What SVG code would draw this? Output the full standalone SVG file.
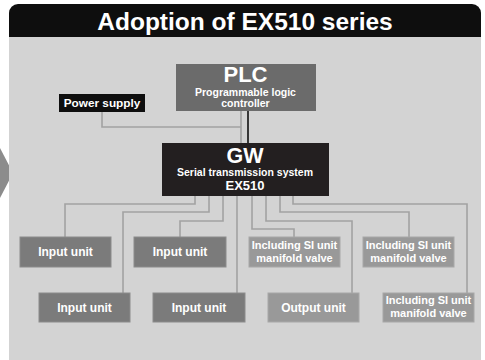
<svg xmlns="http://www.w3.org/2000/svg" width="485" height="360" viewBox="0 0 485 360">
<style>
text{font-family:"Liberation Sans",Arial,sans-serif;font-weight:bold;text-anchor:middle;fill:#fff}
.in rect{fill:#7b7b7b;stroke:#8c8c8c;stroke-width:1}
.lt rect{fill:#999;stroke:#a8a8a8;stroke-width:1}
.u{font-size:12px}
.s{font-size:11px}
.w{fill:none;stroke:#a2a2a2;stroke-width:1.6}
</style>
<rect x="0" y="0" width="485" height="360" fill="#fff"/>
<polygon points="0,148 13,173 0,198" fill="#8c8c8c"/>
<rect x="9" y="30" width="472" height="330" fill="#d3d3d3"/>
<path d="M9,37 V13 A9,9 0 0 1 18,4 H472 A9,9 0 0 1 481,13 V37 Z" fill="#0e0e0e"/>
<text x="245" y="30" style="font-size:24.5px">Adoption of EX510 series</text>

<g id="connectors">
<polyline class="w" points="102,112 102,127 241,127"/>
<line class="w" x1="241" y1="111" x2="241" y2="143"/>
<line x1="248" y1="111" x2="248" y2="143" stroke="#111" stroke-width="1.6"/>
<polyline class="w" points="195,196 195,204 65,204 65,237"/>
<polyline class="w" points="209,196 209,212 123,212 123,293"/>
<polyline class="w" points="223,196 223,221 180,221 180,237"/>
<polyline class="w" points="237,196 237,293"/>
<polyline class="w" points="252,196 252,229 294,229 294,237"/>
<polyline class="w" points="266,196 266,221 352,221 352,293"/>
<polyline class="w" points="280,196 280,212 409,212 409,237"/>
<polyline class="w" points="293,196 293,204 467,204 467,293"/>
</g>

<g id="plc">
<rect x="176" y="64" width="140" height="47" fill="#6b6b6b"/>
<text x="245.5" y="82" style="font-size:22px">PLC</text>
<text x="245.5" y="96" style="font-size:10.5px">Programmable logic</text>
<text x="245.5" y="107" style="font-size:10.5px">controller</text>
</g>
<g id="power">
<rect x="59" y="94" width="86" height="18" fill="#0e0e0e"/>
<text x="102" y="107" style="font-size:11.8px">Power supply</text>
</g>
<g id="gw">
<rect x="162" y="143" width="167" height="53" fill="#231f20"/>
<text x="245" y="163" style="font-size:21.5px">GW</text>
<text x="245" y="176" style="font-size:10.5px">Serial transmission system</text>
<text x="245" y="190" style="font-size:13px">EX510</text>
</g>

<g id="in1" class="in"><rect x="20" y="237" width="91" height="30"/><text class="u" x="65.5" y="256">Input unit</text></g>
<g id="in2" class="in"><rect x="134" y="237" width="92" height="30"/><text class="u" x="180" y="256">Input unit</text></g>
<g id="si1" class="lt"><rect x="249" y="237" width="91" height="30"/><text class="s" x="294.5" y="249">Including SI unit</text><text class="s" x="294.5" y="262">manifold valve</text></g>
<g id="si2" class="lt"><rect x="363" y="237" width="91" height="30"/><text class="s" x="408.5" y="249">Including SI unit</text><text class="s" x="408.5" y="262">manifold valve</text></g>
<g id="in3" class="in"><rect x="39" y="293" width="91" height="29"/><text class="u" x="84.5" y="312">Input unit</text></g>
<g id="in4" class="in"><rect x="153" y="293" width="92" height="29"/><text class="u" x="199" y="312">Input unit</text></g>
<g id="out" class="lt"><rect x="268" y="293" width="91" height="29"/><text class="u" x="313.5" y="312">Output unit</text></g>
<g id="si3" class="lt"><rect x="383" y="293" width="91" height="29"/><text class="s" x="428.5" y="304">Including SI unit</text><text class="s" x="428.5" y="317">manifold valve</text></g>
</svg>
